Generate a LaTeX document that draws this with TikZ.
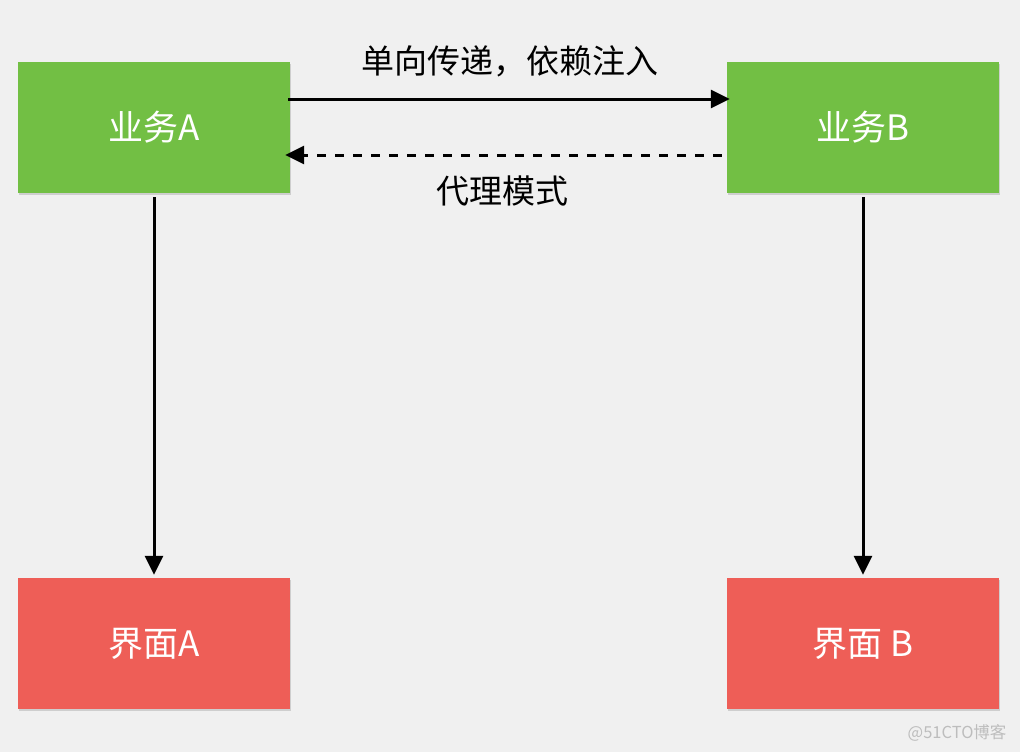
\documentclass[tikz,border=0pt]{standalone}
\usepackage{fontspec}
\setmainfont{Noto Sans CJK SC}
\usetikzlibrary{arrows.meta,shadows}
\definecolor{bggray}{HTML}{F0F0F0}
\definecolor{bizgreen}{HTML}{72BF44}
\definecolor{uired}{HTML}{EE5E57}
\definecolor{markgray}{HTML}{BDBDBD}
\tikzset{
  box/.style={minimum width=272pt,minimum height=131pt,inner sep=0pt,text=white,
    font=\fontsize{35}{40}\selectfont,
    drop shadow={opacity=0.3,shadow xshift=0.5pt,shadow yshift=-2pt}},
  biz/.style={box,fill=bizgreen},
  ui/.style={box,fill=uired},
  link/.style={line width=3pt,-{Triangle[length=19pt,width=18pt]}},
  lbl/.style={font=\fontsize{33}{38}\selectfont}
}
\begin{document}
\begin{tikzpicture}[x=1pt,y=-1pt]
  \fill[bggray] (0,0) rectangle (1020,752);
  \useasboundingbox (0,0) rectangle (1020,752);
  \node[biz] (bizA) at (154,127.5) {业务A};
  \node[biz] (bizB) at (863,127.5) {业务B};
  \node[ui] (uiA) at (154,643.5) {界面A};
  \node[ui] (uiB) at (863,643.5) {界面 B};
  % calls between the two sides
  \draw[link,shorten <=-2pt,shorten >=-3pt] ([yshift=28.5pt]bizA.east) -- ([yshift=28.5pt]bizB.west);
  \draw[link,dash pattern=on 9pt off 9pt,shorten <=5pt,shorten >=-5pt] ([yshift=-27.5pt]bizB.west) -- ([yshift=-27.5pt]bizA.east);
  \node[lbl] (inject) at (510,61) {单向传递，依赖注入};
  \node[lbl] (proxy) at (502,191) {代理模式};
  % each side drives its own view
  \draw[link,shorten <=4pt,shorten >=3pt] (bizA.south) -- (uiA.north);
  \draw[link,shorten <=4pt,shorten >=3pt] (bizB.south) -- (uiB.north);
  \node[text=markgray,font=\fontsize{16.5}{20}\selectfont,anchor=east] (mark) at (1010,733) {@51CTO博客};
\end{tikzpicture}
\end{document}
